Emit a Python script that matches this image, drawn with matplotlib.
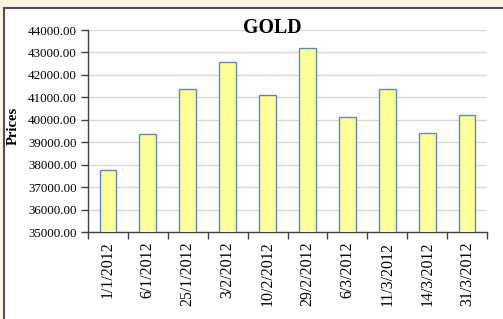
import matplotlib
matplotlib.use("Agg")
import matplotlib.pyplot as plt
import numpy as np
from matplotlib.patches import Rectangle
from matplotlib.lines import Line2D

dates = ["1/1/2012", "6/1/2012", "25/1/2012", "3/2/2012", "10/2/2012",
         "29/2/2012", "6/3/2012", "11/3/2012", "14/3/2012", "31/3/2012"]
prices = [37750, 39350, 41360, 42560, 41100, 43190, 40140, 41390, 39400, 40230]
yticks = [35000, 36000, 37000, 38000, 39000, 40000, 41000, 42000, 43000, 44000]

plt.rcParams['font.family'] = ['Liberation Serif', 'DejaVu Serif']

W, H = 503, 319
fig = plt.figure(figsize=(W / 100, H / 100), dpi=100)
fig.patch.set_facecolor('white')

# beige frame strips and dark border lines
fig.add_artist(Rectangle((0, 1 - 7.5 / H), 1, 7.5 / H, transform=fig.transFigure,
                         facecolor='#FDF3E4', edgecolor='none', zorder=0))
fig.add_artist(Rectangle((0, 0), 3 / W, 1, transform=fig.transFigure,
                         facecolor='#FDF3E4', edgecolor='none', zorder=0))
fig.add_artist(Line2D([3.5 / W, 1], [1 - 8 / H, 1 - 8 / H], transform=fig.transFigure,
                      color='#505050', lw=1.5))
fig.add_artist(Line2D([3.5 / W, 3.5 / W], [0, 1 - 8 / H], transform=fig.transFigure,
                      color='#505050', lw=1.5))

ax = fig.add_axes([88 / W, 1 - 232 / H, (487 - 88) / W, (232 - 30) / H])
x = np.arange(len(dates))
ax.bar(x, prices, width=0.42, color='#FFFF99', edgecolor='#5B8BC6', linewidth=1.0,
       zorder=3)
ax.set_xlim(-0.5, len(dates) - 0.5)
ax.set_ylim(35000, 44000)
ax.set_yticks(yticks)
ax.set_yticklabels([f"{v:.2f}" for v in yticks], fontsize=9.4)
ax.set_xticks(x)
ax.set_xticklabels(dates, rotation=90, fontsize=11.4)
ax.set_xticks(np.arange(len(dates) + 1) - 0.5, minor=True)
ax.tick_params(axis='x', which='major', length=0, pad=7)
ax.tick_params(axis='x', which='minor', length=5, width=1, color='#404040')
ax.tick_params(axis='y', length=5, width=1, color='#404040', pad=3)
ax.grid(axis='y', color='#D9D9D9', lw=1, zorder=0)
ax.set_axisbelow(True)
for s in ['top', 'right']:
    ax.spines[s].set_visible(False)
for s in ['left', 'bottom']:
    ax.spines[s].set_color('#404040')
    ax.spines[s].set_linewidth(1)

fig.text(272.5 / W, 1 - 33.3 / H, "GOLD", ha='center', va='baseline', fontsize=14.3,
         fontweight='bold')
fig.text(13 / W, 1 - 126 / H, "Prices", ha='center', va='center', rotation=90,
         fontsize=10.5, fontweight='bold')

fig.savefig("out.png", dpi=100)
